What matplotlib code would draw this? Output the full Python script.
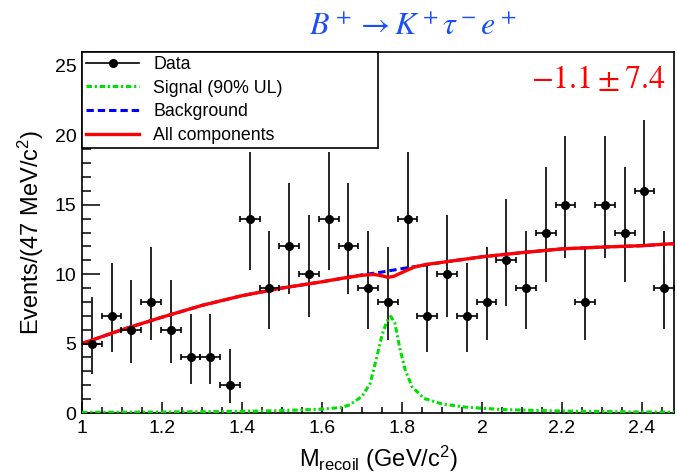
import numpy as np
import matplotlib
matplotlib.use("Agg")
import matplotlib.pyplot as plt
from matplotlib.lines import Line2D
from matplotlib.ticker import MultipleLocator, FuncFormatter

plt.rcParams['font.family'] = ['Liberation Sans', 'DejaVu Sans']
plt.rcParams['mathtext.fontset'] = 'custom'
plt.rcParams['mathtext.rm'] = 'Liberation Sans'
plt.rcParams['mathtext.it'] = 'Liberation Sans:italic'

# data points (bin centres, counts, error bar ends)
x_bins = [1.0247, 1.0740, 1.1233, 1.1727, 1.2220, 1.2713, 1.3207, 1.3700,
          1.4193, 1.4687, 1.5180, 1.5673, 1.6167, 1.6660, 1.7153, 1.7647,
          1.8140, 1.8633, 1.9127, 1.9620, 2.0113, 2.0607, 2.1100, 2.1593,
          2.2087, 2.2580, 2.3073, 2.3567, 2.4060, 2.4553]
counts = [5, 7, 6, 8, 6, 4, 4, 2, 14, 9, 12, 10, 14, 12, 9, 8,
          14, 7, 10, 7, 8, 11, 9, 13, 15, 8, 15, 13, 16, 9]
y_low = [2.84, 4.42, 3.62, 5.23, 3.62, 2.09, 2.09, 0.71, 10.30, 6.06, 8.58, 6.89,
         10.30, 8.58, 6.06, 5.23, 10.30, 4.42, 6.89, 4.42, 5.23, 7.73, 6.06, 9.44,
         11.17, 5.23, 11.17, 9.44, 12.04, 6.06]
y_high = [8.38, 10.77, 9.58, 11.95, 9.58, 7.16, 7.16, 4.64, 18.83, 13.11, 16.56, 14.27,
          18.83, 16.56, 13.11, 11.95, 18.83, 10.77, 14.27, 10.77, 11.95, 15.42, 13.11, 17.70,
          19.96, 11.95, 19.96, 17.70, 21.08, 13.11]
half_width = 0.0247

# fit curves
tot_x = [1.0, 1.1, 1.2, 1.3, 1.4, 1.5, 1.6, 1.65, 1.7, 1.73, 1.75, 1.765, 1.78,
         1.8, 1.83, 1.86, 1.9, 2.0, 2.1, 2.2, 2.3, 2.4, 2.48]
tot_y = [5.0, 6.0, 6.9, 7.75, 8.45, 9.0, 9.45, 9.7, 9.92, 9.98, 9.88, 9.77, 9.85,
         10.12, 10.5, 10.7, 10.85, 11.25, 11.55, 11.82, 11.95, 12.05, 12.2]
bkg_x = [1.0, 1.1, 1.2, 1.3, 1.4, 1.5, 1.6, 1.65, 1.7, 1.75, 1.8, 1.85, 1.9,
         2.0, 2.1, 2.2, 2.3, 2.4, 2.48]
bkg_y = [5.0, 6.0, 6.9, 7.75, 8.45, 9.0, 9.45, 9.7, 9.95, 10.15, 10.4, 10.62, 10.85,
         11.25, 11.55, 11.82, 11.95, 12.05, 12.2]
sig_x = [1.0, 1.2, 1.4, 1.5, 1.6, 1.65, 1.67, 1.70, 1.72, 1.735, 1.75, 1.762, 1.772,
         1.782, 1.795, 1.808, 1.825, 1.855, 1.9, 1.96, 2.05, 2.2, 2.35, 2.48]
sig_y = [0.05, 0.07, 0.12, 0.17, 0.28, 0.4, 0.6, 1.2, 2.1, 3.8, 5.6, 6.6, 6.95,
         6.5, 4.6, 3.1, 1.9, 1.05, 0.65, 0.42, 0.25, 0.14, 0.09, 0.06]

fig = plt.figure(figsize=(6.77, 4.75), dpi=100)
ax = fig.add_axes([82 / 677, 62 / 475, 592 / 677, 361 / 475])

yerr = [np.array(counts) - np.array(y_low), np.array(y_high) - np.array(counts)]
ax.errorbar(x_bins, counts, yerr=yerr, fmt='none', ecolor='black', elinewidth=1.2, zorder=2)
ax.errorbar(x_bins, counts, xerr=half_width, fmt='o', color='black', ms=5.5,
            elinewidth=1.2, capsize=2.0, capthick=1.2, zorder=4)

ax.plot(sig_x, sig_y, color='#00e000', lw=2.2, dashes=(1.8, 0.9, 0.7, 0.9), zorder=3)
ax.plot(bkg_x, bkg_y, color='#0000ff', lw=2.2, dashes=(2.4, 1.3), zorder=3)
ax.plot(tot_x, tot_y, color='#ff0000', lw=2.4, zorder=3)

ax.set_xlim(1.0, 2.48)
ax.set_ylim(0, 26)
ax.xaxis.set_major_locator(MultipleLocator(0.2))
ax.xaxis.set_minor_locator(MultipleLocator(0.05))
ax.yaxis.set_major_locator(MultipleLocator(5))
ax.yaxis.set_minor_locator(MultipleLocator(1))
ax.xaxis.set_major_formatter(FuncFormatter(lambda v, p: '%g' % round(v, 2)))
ax.tick_params(axis='x', which='major', direction='in', length=8, width=1.1, pad=5, labelsize=14)
ax.tick_params(axis='x', which='minor', direction='in', length=4, width=1.1)
ax.tick_params(axis='y', which='major', direction='in', length=13, width=1.1, pad=4, labelsize=14)
ax.tick_params(axis='y', which='minor', direction='in', length=6.5, width=1.1)
for sp in ax.spines.values():
    sp.set_linewidth(1.2)

ax.set_xlabel(r'M$_{\rm recoil}$ (GeV/c$^2$)', fontsize=17, labelpad=5)
ax.set_ylabel(r'Events/(47 MeV/c$^2$)', fontsize=17, labelpad=6)

handles = [
    Line2D([], [], color='black', lw=1.2, marker='o', ms=5.5),
    Line2D([], [], color='#00e000', lw=2.2, dashes=(1.8, 0.9, 0.7, 0.9)),
    Line2D([], [], color='#0000ff', lw=2.2, dashes=(2.4, 1.3)),
    Line2D([], [], color='#ff0000', lw=2.4),
]
labels = ['Data', 'Signal (90% UL)', 'Background', 'All components']
leg = ax.legend(handles, labels, loc='upper left', bbox_to_anchor=(0, 0, 0.5, 1),
                mode='expand', borderaxespad=0, fontsize=12.8, frameon=True,
                fancybox=False, framealpha=1, edgecolor='black', borderpad=0.22,
                labelspacing=0.38, handlelength=3.0, handletextpad=0.8, numpoints=1)
leg.get_frame().set_linewidth(1.2)

fig.text(413 / 677, 1 - 35 / 475, r'$B^+ \rightarrow K^+\tau^-e^+$', ha='center',
         va='baseline', fontsize=23, color='#1a4ff5', math_fontfamily='stix')
fig.text(665 / 677, 1 - 88 / 475, r'$-1.1 \pm 7.4$', ha='right', va='baseline',
         fontsize=23, color='#ff0000', math_fontfamily='stix')

fig.savefig('out.png', dpi=100)
